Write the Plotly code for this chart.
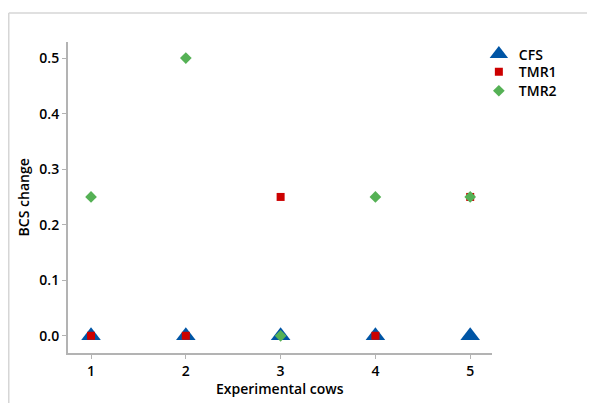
import plotly.graph_objects as go

cows = [1, 2, 3, 4, 5]
cfs = [0, 0, 0, 0, 0]
tmr1 = [0, 0, 0.25, 0, 0.25]
tmr2 = [0.25, 0.5, 0, 0.25, 0.25]
y_ticks = [0.0, 0.1, 0.2, 0.3, 0.4, 0.5]

FONT = "Open Sans, Noto Sans, sans-serif"

fig = go.Figure()
fig.add_trace(go.Scatter(x=cows, y=cfs, mode="markers", name="CFS", legend="legend",
                         marker=dict(symbol="triangle-up", size=17, color="#0055A5",
                                     line=dict(width=0))))
fig.add_trace(go.Scatter(x=cows, y=tmr1, mode="markers", name="TMR1", legend="legend2",
                         marker=dict(symbol="square", size=8, color="#CC0000",
                                     line=dict(width=0))))
fig.add_trace(go.Scatter(x=cows, y=tmr2, mode="markers", name="TMR2", legend="legend3",
                         marker=dict(symbol="diamond", size=9, color="#55B155",
                                     line=dict(width=0))))

axis_font = dict(family=FONT, size=14, color="#000", weight=600)
leg_common = dict(x=0.969, xanchor="left", yanchor="middle",
                  font=dict(family=FONT, size=14, color="#000", weight=600),
                  itemsizing="trace", bgcolor="rgba(0,0,0,0)")
# page body has an 8px default margin, figure is sized/offset to compensate
fig.update_layout(
    width=587, height=395,
    margin=dict(l=60, r=103, t=34, b=50, autoexpand=False),
    paper_bgcolor="white", plot_bgcolor="white",
    font=dict(family=FONT, color="#000"),
    showlegend=True,
    legend=dict(y=0.960, **leg_common),
    legend2=dict(y=0.903, **leg_common),
    legend3=dict(y=0.842, **leg_common),
    xaxis=dict(range=[0.757, 5.23], tickvals=cows, showgrid=False, zeroline=False,
               automargin=False,
               showline=True, linecolor="#b3b3b3", linewidth=2,
               ticks="outside", ticklen=4, tickcolor="#b3b3b3",
               tickfont=axis_font),
    yaxis=dict(range=[-0.031, 0.529], tickvals=y_ticks, tickformat=".1f",
               showgrid=False, zeroline=False, automargin=False,
               showline=True, linecolor="#b3b3b3", linewidth=2,
               ticks="outside", ticklen=4, tickcolor="#b3b3b3",
               tickfont=axis_font),
    annotations=[
        dict(text="Experimental cows", xref="paper", yref="paper", x=0.5, y=-0.113,
             xanchor="center", yanchor="middle", showarrow=False,
             font=dict(family=FONT, size=14, color="#000", weight=600)),
        dict(text="BCS change", xref="paper", yref="paper", x=-0.104, y=0.5,
             xanchor="center", yanchor="middle", showarrow=False, textangle=-90,
             font=dict(family=FONT, size=14, color="#000", weight=600)),
    ],
)

# outer frame (light gray lines at top and left)
fig.add_shape(type="line", xref="paper", yref="paper", x0=-0.1397, x1=1.25, y0=1.093, y1=1.093,
              line=dict(color="#d6d6d6", width=1.5))
fig.add_shape(type="line", xref="paper", yref="paper", x0=-0.1397, x1=-0.1397, y0=-0.17, y1=1.093,
              line=dict(color="#d6d6d6", width=1.5))

fig.write_html("out.html")
